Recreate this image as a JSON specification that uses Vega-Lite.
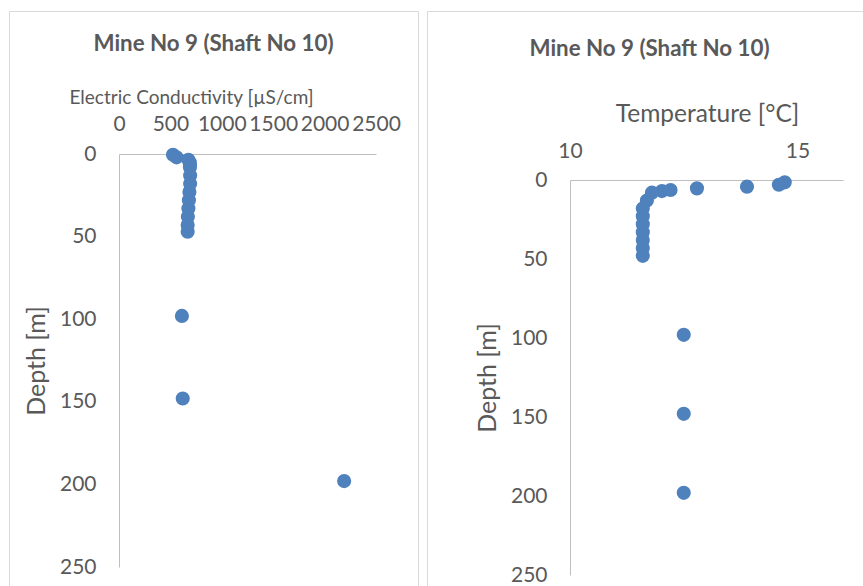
{
  "$schema": "https://vega.github.io/schema/vega-lite/v6.json",
  "padding": {"left": 8, "top": 10, "right": 0, "bottom": 0},
  "spacing": 7,
  "config": {
    "font": "Lato",
    "view": {"stroke": "#D9D9D9", "strokeWidth": 1},
    "axis": {
      "domainColor": "#BFBFBF",
      "domainWidth": 1,
      "ticks": false,
      "tickSize": 0,
      "grid": false,
      "labelFont": "Lato",
      "labelFontSize": 21,
      "labelColor": "#595959",
      "labelOverlap": false,
      "labelFlush": false,
      "titleFont": "Lato",
      "titleColor": "#595959",
      "titleFontWeight": "normal",
      "format": "d"
    },
    "title": {"font": "Lato", "fontSize": 22.3, "fontWeight": "bold", "color": "#595959", "anchor": "middle"}
  },
  "hconcat": [
    {
      "width": 409,
      "height": 620,
      "title": {"text": "Mine No 9 (Shaft No 10)", "offset": -62, "baseline": "alphabetic"},
      "data": {"values": [
        {"depth": 0.5, "ec": 525},
        {"depth": 2, "ec": 560},
        {"depth": 3.5, "ec": 675},
        {"depth": 5, "ec": 688},
        {"depth": 6.5, "ec": 690},
        {"depth": 8, "ec": 690},
        {"depth": 13, "ec": 692},
        {"depth": 18, "ec": 692},
        {"depth": 23, "ec": 685},
        {"depth": 28, "ec": 680},
        {"depth": 33, "ec": 675},
        {"depth": 38, "ec": 670},
        {"depth": 43, "ec": 668},
        {"depth": 47, "ec": 668},
        {"depth": 98, "ec": 612},
        {"depth": 148, "ec": 620},
        {"depth": 198, "ec": 2190}
      ]},
      "mark": {"type": "circle", "size": 200, "opacity": 1, "color": "#4F81BD"},
      "encoding": {
        "x": {
          "field": "ec", "type": "quantitative",
          "scale": {"domain": [0, 2500], "range": [110, 367], "nice": false, "zero": false},
          "axis": {
            "orient": "top", "offset": -143,
            "values": [0, 500, 1000, 1500, 2000, 2500],
            "labelPadding": 24, "labelBaseline": "alphabetic",
            "title": "Electric Conductivity [µS/cm]",
            "titleFontSize": 19, "titleX": 182, "titleY": -51,
            "titleBaseline": "alphabetic", "titleAlign": "center"
          }
        },
        "y": {
          "field": "depth", "type": "quantitative",
          "scale": {"domain": [0, 250], "range": [143, 556], "nice": false, "zero": false},
          "axis": {
            "orient": "left", "offset": -110,
            "values": [0, 50, 100, 150, 200, 250],
            "labelPadding": 23, "labelBaseline": "middle",
            "title": "Depth [m]",
            "titleFontSize": 25, "titleX": -70, "titleBaseline": "bottom"
          }
        }
      }
    },
    {
      "width": 445,
      "height": 620,
      "title": {"text": "Mine No 9 (Shaft No 10)", "offset": -67, "baseline": "alphabetic"},
      "data": {"values": [
        {"depth": 1.5, "temp": 14.72},
        {"depth": 3, "temp": 14.59},
        {"depth": 4.2, "temp": 13.89},
        {"depth": 5.3, "temp": 12.79},
        {"depth": 6.3, "temp": 12.21},
        {"depth": 7, "temp": 12.02},
        {"depth": 8, "temp": 11.8},
        {"depth": 13, "temp": 11.69},
        {"depth": 18, "temp": 11.6},
        {"depth": 23, "temp": 11.6},
        {"depth": 28, "temp": 11.6},
        {"depth": 33, "temp": 11.6},
        {"depth": 38, "temp": 11.6},
        {"depth": 43, "temp": 11.6},
        {"depth": 48, "temp": 11.6},
        {"depth": 98, "temp": 12.5},
        {"depth": 148, "temp": 12.5},
        {"depth": 198, "temp": 12.5}
      ]},
      "mark": {"type": "circle", "size": 200, "opacity": 1, "color": "#4F81BD"},
      "encoding": {
        "x": {
          "field": "temp", "type": "quantitative",
          "scale": {"domain": [10, 16], "range": [143, 416], "nice": false, "zero": false},
          "axis": {
            "orient": "top", "offset": -169,
            "values": [10, 15],
            "labelPadding": 23, "labelBaseline": "alphabetic",
            "title": "Temperature [°C]",
            "titleFontSize": 24.5, "titleX": 280, "titleY": -59,
            "titleBaseline": "alphabetic", "titleAlign": "center"
          }
        },
        "y": {
          "field": "depth", "type": "quantitative",
          "scale": {"domain": [0, 250], "range": [169, 564], "nice": false, "zero": false},
          "axis": {
            "orient": "left", "offset": -143,
            "values": [0, 50, 100, 150, 200, 250],
            "labelPadding": 23, "labelBaseline": "middle",
            "title": "Depth [m]",
            "titleFontSize": 25, "titleX": -70, "titleBaseline": "bottom"
          }
        }
      }
    }
  ]
}
